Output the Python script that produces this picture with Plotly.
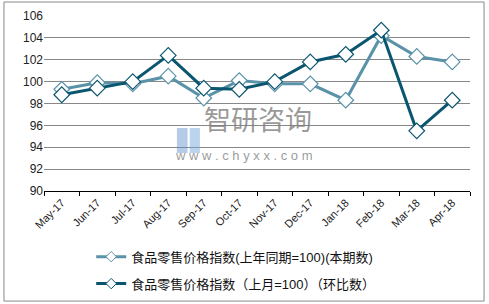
import plotly.graph_objects as go

months = ["May-17","Jun-17","Jul-17","Aug-17","Sep-17","Oct-17","Nov-17","Dec-17","Jan-18","Feb-18","Mar-18","Apr-18"]
yoy = [99.3, 99.9, 99.8, 100.5, 98.5, 100.1, 99.8, 99.8, 98.3, 104.2, 102.3, 101.8]
mom = [98.8, 99.4, 100.0, 102.4, 99.4, 99.3, 100.0, 101.8, 102.5, 104.7, 95.5, 98.3]
name_yoy = "食品零售价格指数(上年同期=100)(本期数)"
name_mom = "食品零售价格指数（上月=100）（环比数）"
y_ticks = [90, 92, 94, 96, 98, 100, 102, 104, 106]

c_light = "#5A93A8"
c_dark = "#0A5670"

fig = go.Figure()
for vals, nm, col, grp in [(yoy, name_yoy, c_light, "a"), (mom, name_mom, c_dark, "b")]:
    fig.add_trace(go.Scatter(x=months, y=vals, name=nm, mode="lines+markers", legendgroup=grp,
        showlegend=False, line=dict(color=col, width=3),
        marker=dict(symbol="diamond", size=12, color="white", line=dict(color=col, width=1.2))))
    # legend entry with smaller marker
    fig.add_trace(go.Scatter(x=[None], y=[None], name=nm, mode="lines+markers", legendgroup=grp,
        showlegend=True, line=dict(color=col, width=3),
        marker=dict(symbol="diamond", size=8, color="white", line=dict(color=col, width=1))))

fig.update_layout(
    width=489, height=304,
    margin=dict(l=44, r=19, t=16, b=113, autoexpand=False),
    paper_bgcolor="white", plot_bgcolor="white",
    font=dict(family="Liberation Sans, Arial, Noto Sans CJK SC", size=11, color="#222"),
    showlegend=True,
    legend=dict(orientation="v", x=0.45, xanchor="center", y=-0.29, yanchor="top",
                font=dict(family="Liberation Sans, Noto Sans CJK SC", size=13, color="#111"),
                tracegroupgap=7, itemwidth=30),
    xaxis=dict(type="category", showgrid=False, showline=True, linecolor="#000", linewidth=1,
               ticks="outside", tickson="boundaries", ticklen=4, tickcolor="#000", automargin=False,
               tickangle=-45, tickfont=dict(size=11), range=[-0.5, 11.5]),
    yaxis=dict(range=[90, 106], tickvals=y_ticks, showgrid=True, gridcolor="#888", gridwidth=1,
               showline=False, zeroline=False, ticks="", tickfont=dict(size=12), automargin=False),
)

fig.add_shape(type="rect", xref="paper", yref="paper", x0=-0.094, x1=1.033, y0=-0.629, y1=1.08,
              line=dict(color="#888", width=1), fillcolor="rgba(0,0,0,0)", layer="below")

fig.add_annotation(xref="paper", yref="paper", x=0.502, y=0.29, text="智研咨询", showarrow=False,
                   font=dict(family="Noto Sans CJK SC", size=27, color="rgba(120,120,120,0.75)"))
fig.add_annotation(xref="paper", yref="paper", x=0.47, y=0.149, text="w w w . c h y x x . c o m", showarrow=False,
                   font=dict(family="Liberation Sans", size=13, color="rgba(120,120,120,0.75)"))
fig.add_shape(type="rect", xref="paper", yref="paper", x0=0.312, x1=0.337, y0=0.217, y1=0.36,
              line=dict(width=0), fillcolor="rgba(90,140,200,0.45)")
fig.add_shape(type="rect", xref="paper", yref="paper", x0=0.342, x1=0.366, y0=0.217, y1=0.36,
              line=dict(width=0), fillcolor="rgba(120,170,220,0.5)")

fig.write_html("out.html")
